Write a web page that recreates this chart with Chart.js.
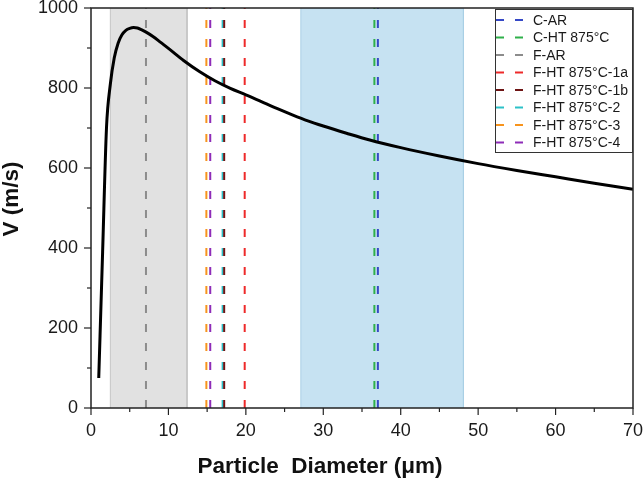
<!DOCTYPE html>
<html><head><meta charset="utf-8">
<script src="https://cdn.jsdelivr.net/npm/chart.js@4.4.0/dist/chart.umd.min.js"></script>
<style>html,body{margin:0;padding:0;background:#fff;}</style>
</head><body>
<canvas id="c" width="644" height="480"></canvas>
<script>
// ---- data ----
const diameters = [1.0,1.5,2.0,2.5,3.0,3.5,4.0,4.5,5.0,5.5,6.0,6.5,7,8,9,10,12,14,16,18,20,22,24,26,28,30,33,36,40,45,50,55,60,65,70];
const velocities = [75,390,700,810,875,912,933,944,949,951,950,946,941,929,914,899,868,841,818,799,783,766,749,733,718,705,687,670,651,630,611,594,578,562,547];
const sampleLabels = ['C-AR','C-HT 875°C','F-AR','F-HT 875°C-1a','F-HT 875°C-1b','F-HT 875°C-2','F-HT 875°C-3','F-HT 875°C-4'];
const sampleDiameters = [37.05,36.6,7.1,19.85,17.2,17.0,14.9,15.4];
const grayRange = [2.5,12.4];
const blueRange = [27.1,48.1];
const xTickValues = [0,10,20,30,40,50,60,70];
const yTickValues = [0,200,400,600,800,1000];
const xTitle = 'Particle  Diameter (μm)';
const yTitle = 'V (m/s)';
// ---- styles ----
const sampleColors = ['#3548c6','#2fb04a','#8c8c8c','#ee2a2a','#6e1414','#2cc1c8','#f7941d','#8e2cb8'];
const FONT = "'Liberation Sans', Arial, sans-serif";

const datasets = [];
datasets.push({
  label:'curve', data: diameters.map((d,i)=>({x:d,y:velocities[i]})),
  showLine:true, borderColor:'#000', borderWidth:3, pointRadius:0, cubicInterpolationMode:'monotone', fill:false
});
sampleDiameters.forEach((d,i)=>{
  datasets.push({label:sampleLabels[i], data:[{x:d,y:0},{x:d,y:1000}], showLine:true,
    borderColor:sampleColors[i], borderWidth:2, borderDash:[8,11], pointRadius:0, fill:false});
});
function region(r, fillC, lineC){
  return {label:'region', data:[{x:r[0],y:0},{x:r[0],y:1000},{x:r[1],y:1000},{x:r[1],y:0}],
    showLine:true, fill:'origin', backgroundColor:fillC, borderColor:lineC, borderWidth:1, pointRadius:0};
}
datasets.push(region(grayRange,'#e1e1e1','#c4c4c4'));
datasets.push(region(blueRange,'#c6e2f2','#a9cfe6'));

const decor = {
  id:'decor',
  afterDraw(chart){
    const {ctx, chartArea:a, scales:{x,y}} = chart;
    ctx.save();
    ctx.strokeStyle='#222'; ctx.lineWidth=1.5;
    ctx.strokeRect(a.left,a.top,a.right-a.left,a.bottom-a.top);
    ctx.lineWidth=1.2;
    const ln=(x1,y1,x2,y2)=>{ctx.beginPath();ctx.moveTo(x1,y1);ctx.lineTo(x2,y2);ctx.stroke();};
    for(let v=0; v<=70; v+=5){ const px=x.getPixelForValue(v); ln(px,a.bottom,px,a.bottom+(v%10===0?7:4)); }
    for(let v=0; v<=1000; v+=100){ const py=y.getPixelForValue(v); ln(a.left-(v%200===0?7:4),py,a.left,py); }
    // titles
    ctx.fillStyle='#111'; ctx.font='bold 22.5px '+FONT; ctx.textAlign='center'; ctx.textBaseline='middle';
    ctx.fillText(xTitle, 320, 467);
    ctx.save(); ctx.translate(12,199); ctx.rotate(-Math.PI/2); ctx.fillText(yTitle,0,0); ctx.restore();
    // legend
    const lx=495, ly=9, lw=a.right-lx, lh=143;
    ctx.fillStyle='#fff'; ctx.fillRect(lx,ly,lw,lh);
    ctx.strokeStyle='#333'; ctx.lineWidth=1; ctx.strokeRect(lx+0.5,ly+0.5,lw-1,lh);
    ctx.font='14px '+FONT; ctx.textBaseline='middle'; ctx.textAlign='left';
    sampleLabels.forEach((lab,i)=>{
      const yy = 20 + i*17.5;
      ctx.strokeStyle=sampleColors[i]; ctx.lineWidth=2; ctx.setLineDash([8,11]);
      ln(496,yy,524,yy);
      ctx.setLineDash([]);
      ctx.fillStyle='#1a1a1a'; ctx.fillText(lab,533,yy+1);
    });
    ctx.restore();
  }
};

new Chart(document.getElementById('c'), {
  type:'scatter',
  data:{datasets},
  plugins:[decor],
  options:{
    responsive:false, animation:false, devicePixelRatio:1,
    layout:{padding:{top:8,right:11,left:0,bottom:0}},
    plugins:{legend:{display:false}, tooltip:{enabled:false}},
    scales:{
      x:{type:'linear', min:0, max:70,
        afterBuildTicks:(s)=>{ s.ticks = xTickValues.map(v=>({value:v})); },
        ticks:{font:{family:FONT,size:18}, color:'#1a1a1a', padding:12, maxRotation:0, callback:(v)=>String(v)},
        grid:{display:false, drawTicks:false}, border:{display:false},
        title:{display:false},
        afterFit:(s)=>{ s.height=72; s.paddingLeft=0; s.paddingRight=0; }
      },
      y:{type:'linear', min:0, max:1000,
        afterBuildTicks:(s)=>{ s.ticks = yTickValues.map(v=>({value:v})); },
        ticks:{font:{family:FONT,size:18}, color:'#1a1a1a', padding:13, callback:(v)=>String(v)},
        grid:{display:false, drawTicks:false}, border:{display:false},
        title:{display:false},
        afterFit:(s)=>{ s.width=91; s.paddingTop=0; s.paddingBottom=0; }
      }
    }
  }
});
</script>
</body></html>
